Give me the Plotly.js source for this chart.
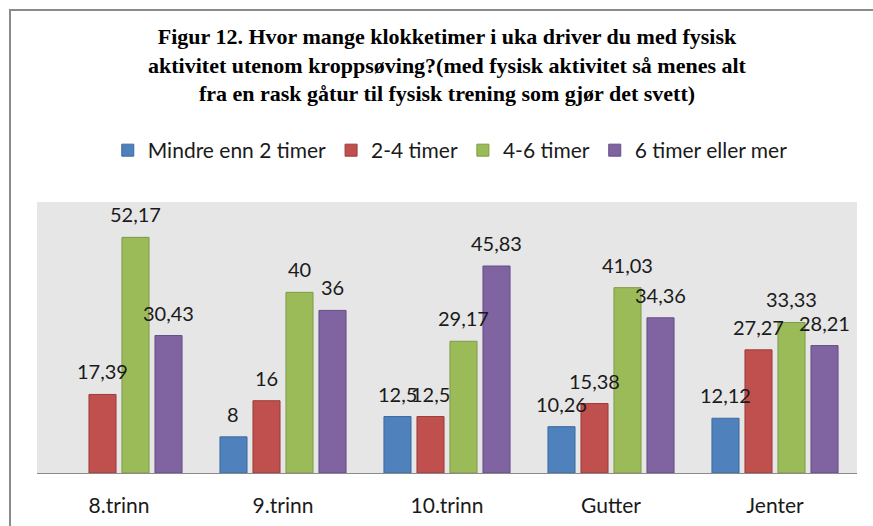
<!DOCTYPE html>
<html>
<head>
<meta charset="utf-8">
<script src="https://cdn.plot.ly/plotly-3.0.1.min.js"></script>
<style>
  html, body { margin: 0; padding: 0; background: #ffffff; overflow: hidden; }
  #chart { width: 873px; height: 526px; position: relative; }
  #frame { position: absolute; left: 9px; top: 9px; width: 900px; height: 600px;
           border: 2px solid #8a8a8a; pointer-events: none; box-sizing: border-box; }
</style>
</head>
<body>
<div id="chart"></div>
<div id="frame"></div>
<script>
// ---- data ----
const categories = ["8.trinn", "9.trinn", "10.trinn", "Gutter", "Jenter"];
const seriesNames = ["Mindre enn 2 timer", "2-4 timer", "4-6 timer", "6 timer eller mer"];
const mindreEnn2 = [null, 8, 12.5, 10.26, 12.12];
const timer2til4 = [17.39, 16, 12.5, 15.38, 27.27];
const timer4til6 = [52.17, 40, 29.17, 41.03, 33.33];
const timer6pluss = [30.43, 36, 45.83, 34.36, 28.21];

const seriesValues = [mindreEnn2, timer2til4, timer4til6, timer6pluss];
const fillColors = ["#4F81BD", "#C0504D", "#9BBB59", "#8064A2"];
const lineColors = ["#3C6A9E", "#9E3B38", "#7E9A45", "#654D85"];

const bargap = 0.195;
const bargroupgap = 0.18;
const nSeries = seriesValues.length;
const xIdx = categories.map((c, i) => i);
const labelFont = "Lato, 'Open Sans', sans-serif";

const traces = seriesValues.map((vals, k) => ({
  type: "bar",
  name: seriesNames[k],
  x: xIdx,
  y: vals,
  marker: { color: fillColors[k], line: { color: lineColors[k], width: 1 } },
  hoverinfo: "skip"
}));

const fmt = v => String(v).replace(".", ",");
const annotations = [];
seriesValues.forEach((vals, k) => {
  const slot = (1 - bargap) / nSeries;
  vals.forEach((v, i) => {
    if (v === null) return;
    annotations.push({
      x: i + (k - (nSeries - 1) / 2) * slot,
      y: v,
      xref: "x", yref: "y",
      text: fmt(v),
      showarrow: false,
      xanchor: "center", yanchor: "bottom",
      yshift: 9,
      font: { family: labelFont, size: 20, color: "#1a1a1a" }
    });
  });
});

const layout = {
  width: 873,
  height: 526,
  margin: { l: 37, r: 16, t: 202, b: 53 },
  paper_bgcolor: "#ffffff",
  plot_bgcolor: "#e6e6e6",
  barmode: "group",
  bargap: bargap,
  bargroupgap: bargroupgap,
  showlegend: true,
  title: {
    text: "Figur 12. Hvor mange klokketimer i uka driver du med fysisk<br>aktivitet utenom kroppsøving?(med fysisk aktivitet så menes alt<br>fra en rask gåtur til fysisk trening som gjør det svett)",
    font: { family: "'Liberation Serif', 'Times New Roman', serif", size: 22, color: "#000000", weight: "bold" },
    x: 0.5, xref: "paper", xanchor: "center",
    y: 0.916, yref: "container", yanchor: "top"
  },
  legend: {
    orientation: "h",
    x: 0.504, xanchor: "center",
    y: 1.19, yanchor: "middle",
    font: { family: labelFont, size: 21, color: "#1a1a1a" },
    itemwidth: 30,
    traceorder: "normal",
    bgcolor: "rgba(0,0,0,0)"
  },
  xaxis: {
    tickmode: "array",
    tickvals: xIdx,
    ticktext: categories,
    range: [-0.5, categories.length - 0.5],
    showline: true,
    linecolor: "#8a8a8a",
    linewidth: 1,
    ticks: "",
    showgrid: false,
    zeroline: false,
    ticklabelstandoff: 14,
    tickfont: { family: labelFont, size: 21, color: "#1a1a1a" },
    fixedrange: true
  },
  yaxis: {
    range: [0, 60],
    showticklabels: false,
    showgrid: false,
    zeroline: false,
    showline: false,
    ticks: "",
    fixedrange: true
  },
  annotations: annotations
};

Plotly.newPlot("chart", traces, layout, { displayModeBar: false, staticPlot: true });
</script>
</body>
</html>
